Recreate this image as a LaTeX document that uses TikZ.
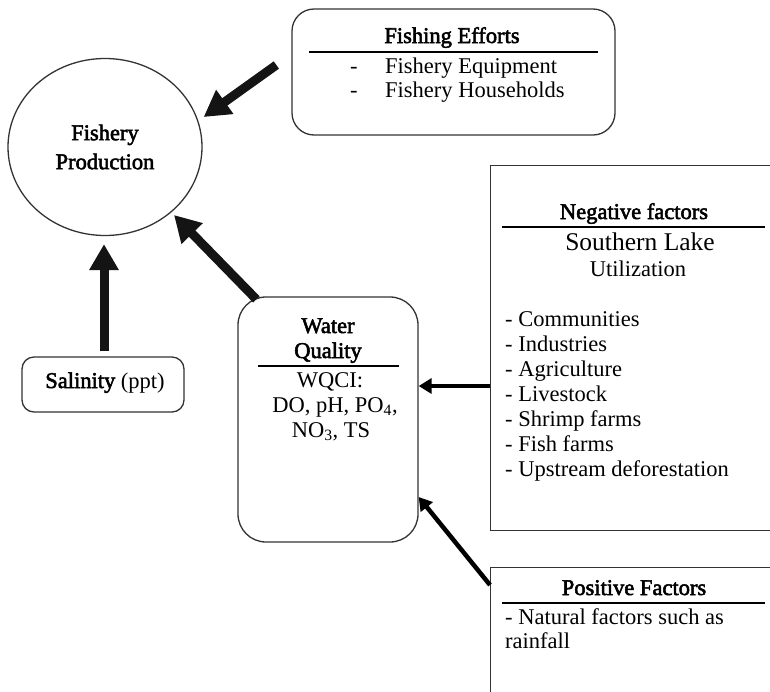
\documentclass[tikz,border=0pt]{standalone}
\usepackage{fontspec}
\setmainfont{Liberation Serif}
\newfontfamily\hdfont{Liberation Serif}[FakeBold=2.4]
\newcommand\boldtxt[1]{{\hdfont #1}}
\usetikzlibrary{arrows.meta,shapes.geometric}
\begin{document}
\begin{tikzpicture}[x=1pt,y=-1pt,
  every node/.style={font=\fontsize{22.5}{25}\selectfont, inner sep=0pt},
  boxline/.style={draw=black!80, line width=1.3pt},
  rbox/.style={boxline, rounded corners=22pt},
  sbox/.style={boxline},
  hrule/.style={line width=2pt},
  bigarrow/.style={line width=9pt, draw=black!92, -{Triangle[length=26pt,width=28pt]}},
  thinarrow/.style={line width=4.5pt, -{Triangle[length=13pt,width=15pt]}},
  txt/.style={anchor=base},
  txtl/.style={anchor=base west},
  hd/.style={anchor=base, font=\hdfont\fontsize{22.5}{25}\selectfont},
]
\useasboundingbox (0,0) rectangle (770,691);
\clip (0,0) rectangle (770,691);
\fill[white] (0,0) rectangle (770,691);

% Fishery production
\node[ellipse, boxline, minimum width=194pt, minimum height=177pt, align=center,
      font=\hdfont\fontsize{22.5}{29}\selectfont] (fp) at (105,147) {Fishery\\Production};

% Fishing efforts
\node[rbox, minimum width=323pt, minimum height=126pt] (fe) at (453.5,72) {};
\node[hd] (feh) at (452,43) {Fishing Efforts};
\draw[hrule] (309,52) -- (598,52);
\node[txtl] (fed1) at (350,73) {-};
\node[txtl] (fe1) at (385,73) {Fishery Equipment};
\node[txtl] (fed2) at (350,97) {-};
\node[txtl] (fe2) at (385,97) {Fishery Households};

% Salinity
\node[rbox, rounded corners=12pt, minimum width=162pt, minimum height=55pt] (sal) at (103,384.5) {};
\node[txt] (salt) at (105,388) {\boldtxt{Salinity} (ppt)};

% Water quality
\node[rbox, rounded corners=28pt, minimum width=180pt, minimum height=245pt] (wq) at (328,419.5) {};
\node[hd] (wq1) at (328,333) {Water};
\node[hd] (wq2) at (328,358) {Quality};
\draw[hrule] (258,366) -- (399,366);
\node[txt] (wq3) at (330,387) {WQCI:};
\node[txt] (wq4) at (335,412) {DO, pH, PO\textsubscript{4},};
\node[txt] (wq5) at (331,437) {NO\textsubscript{3}, TS};

% Negative factors
\node[sbox, anchor=north west, minimum width=300pt, minimum height=365pt] (neg) at (490,165) {};
\node[hd] (negh) at (634,219) {Negative factors};
\draw[hrule] (502,227) -- (765,227);
\node[txt, font=\fontsize{25.5}{27}\selectfont] (neg1) at (640,250) {Southern Lake};
\node[txt] (neg2) at (638,276) {Utilization};
\foreach \t [count=\i] in {Communities, Industries, Agriculture, Livestock, Shrimp farms, Fish farms, Upstream deforestation}{
  \node[txtl] (negl\i) at (505,{301+25*\i}) {- \t};
}

% Positive factors
\node[sbox, anchor=north west, minimum width=300pt, minimum height=150pt] (pos) at (490,567) {};
\node[hd] (posh) at (634,595) {Positive Factors};
\draw[hrule] (502,603) -- (765,603);
\node[txtl] (pos1) at (505,624) {- Natural factors such as};
\node[txtl] (pos2) at (505,648) {rainfall};

% Arrows
\draw[bigarrow] ([shift={(-15,-7)}]fe.west) -- ([shift={(1,-30)}]fp.east);
\draw[bigarrow] ([shift={(19,3)}]wq.north west) -- ([shift={(69,68)}]fp.center);
\draw[bigarrow] ([shift={(1,-5)}]sal.north) -- ([shift={(-1,8)}]fp.south);
\draw[thinarrow] ([shift={(0,221)}]neg.north west) -- ([shift={(0,221)}]neg.north west -| wq.east);
\draw[thinarrow] ([shift={(0,18)}]pos.north west) -- ([shift={(0,77.5)}]wq.east);
\end{tikzpicture}
\end{document}
